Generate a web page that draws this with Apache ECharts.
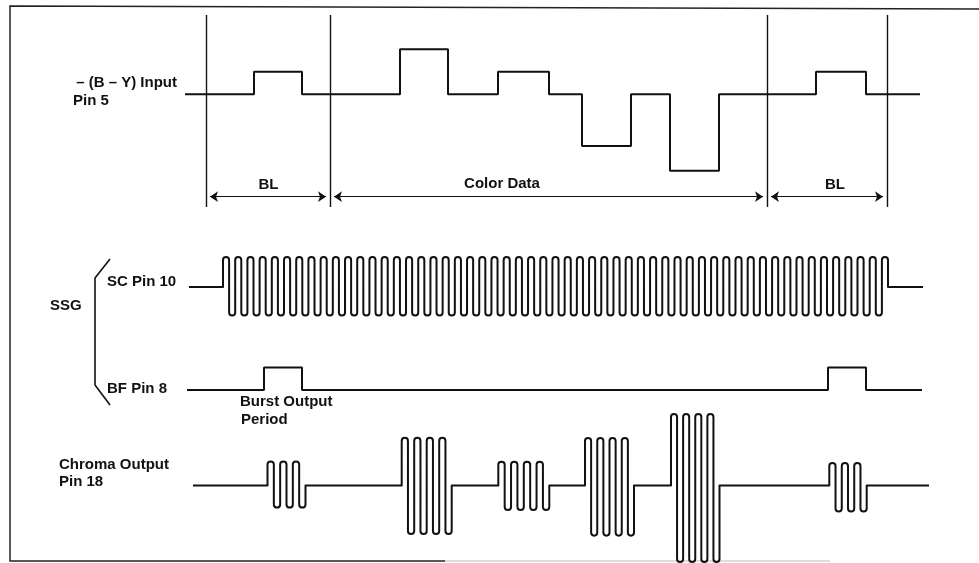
<!DOCTYPE html>
<html><head><meta charset="utf-8">
<script src="https://cdn.jsdelivr.net/npm/echarts@6/dist/echarts.min.js"></script>
<style>html,body{margin:0;padding:0;background:#fff}#chart{width:979px;height:563px}</style>
</head><body><div id="chart"></div>
<script>
// ---------------- data (time in diagram units, levels in signal units) ----------------
const periodMarks = [206, 330, 767, 887];
const periodNames = ['BL', 'Color Data', 'BL'];

const inputTimes  = [185, 254, 302, 400, 448, 498, 549, 582, 631, 670, 719, 816, 866, 920];
const inputLevels = [0,   1,   0,   2,   0,   1,   0,  -2.3, 0,  -3.4, 0,   1,   0,   0];

const scSpan   = [189, 923];
const scStart  = [223];
const scEnd    = [888];
const scLoops  = [109];
const scTop    = [1.33];
const scBottom = [1.27];

const bfTimes  = [187, 264, 302, 828, 866, 922];
const bfLevels = [0,   1,   0,   1,   0,   0];

const chromaSpan  = [193, 929];
const burstStart  = [267.5, 401.7, 498.3, 585, 671, 829.3];
const burstEnd    = [305.5, 451.7, 549.3, 634, 719.5, 866.7];
const burstLoops  = [6, 8, 8, 8, 8, 6];
const burstTop    = [1.07, 2.12, 1.06, 2.11, 3.18, 1.0];
const burstBottom = [0.98, 2.16, 1.09, 2.23, 3.4, 1.16];

const rowLabels = ['– (B – Y) Input', 'Pin 5', 'SC Pin 10', 'SSG', 'BF Pin 8', 'Burst Output', 'Period', 'Chroma Output', 'Pin 18'];

// ---------------- layout ----------------
const W = 979, U = 22.5;
const INK = '#111';
const rows = [
  {base: 94.3,  top: 15,  bottom: 207},   // input
  {base: 287,   top: 240, bottom: 340},   // SC
  {base: 390,   top: 350, bottom: 410},   // BF
  {base: 485.5, top: 400, bottom: 563}    // chroma
];
const dimPx = 196.7, arrowSize = 8;
const FONT = 'bold 15px "Liberation Sans", Arial, sans-serif';

const chart = echarts.init(document.getElementById('chart'), null, {renderer: 'canvas'});

function zip(a, b) { return a.map((v, i) => [v, b[i]]); }

function bursts(st, en, lo, tp, bt) {
  return st.map((s, i) => ({start: s, end: en[i], loops: lo[i], top: tp[i], bottom: bt[i]}));
}

function buildTrace(api, span, list) {
  const y0 = api.coord([0, 0])[1];
  let d = 'M' + api.coord([span[0], 0])[0] + ' ' + y0;
  list.forEach(b => {
    const x0 = api.coord([b.start, 0])[0], x1 = api.coord([b.end, 0])[0];
    const yT = api.coord([b.start, b.top])[1], yB = api.coord([b.start, -b.bottom])[1];
    const w = (x1 - x0) / b.loops, r = w / 2, k = 4 / 3 * r;
    d += ' L' + x0 + ' ' + y0 + ' L' + x0 + ' ' + (yT + r);
    let x = x0;
    for (let i = 0; i < b.loops; i++) {
      const isTop = i % 2 === 0;
      if (isTop) d += ' C' + x + ' ' + (yT + r - k) + ' ' + (x + w) + ' ' + (yT + r - k) + ' ' + (x + w) + ' ' + (yT + r);
      else d += ' C' + x + ' ' + (yB - r + k) + ' ' + (x + w) + ' ' + (yB - r + k) + ' ' + (x + w) + ' ' + (yB - r);
      x += w;
      const last = i === b.loops - 1;
      d += ' L' + x + ' ' + (last ? y0 : (isTop ? yB - r : yT + r));
    }
  });
  d += ' L' + api.coord([span[1], 0])[0] + ' ' + y0;
  return {type: 'path', shape: {pathData: d}, style: {stroke: INK, lineWidth: 2, fill: 'none', lineJoin: 'round'}};
}

const dimLevel = (rows[0].base - dimPx) / U;
const inset = arrowSize / 2;
const markData = periodMarks.map(t => ({xAxis: t, symbol: 'none', lineStyle: {width: 1.4}}));
for (let i = 0; i < periodMarks.length - 1; i++) {
  markData.push([
    {coord: [periodMarks[i] + inset, dimLevel], symbol: 'arrow', symbolSize: arrowSize},
    {coord: [periodMarks[i + 1] - inset, dimLevel], symbol: 'arrow', symbolSize: arrowSize}
  ]);
}

function txt(t, x, y, align) {
  return {type: 'text', x: x, y: y, silent: true,
    style: {text: t, font: FONT, fill: INK, textAlign: align || 'left', align: align || 'left',
            textVerticalAlign: 'middle', verticalAlign: 'middle'}};
}

const option = {
  animation: false,
  backgroundColor: '#fff',
  grid: rows.map(r => ({left: 0, right: 0, top: r.top, height: r.bottom - r.top, containLabel: false})),
  xAxis: rows.map((r, i) => ({type: 'value', gridIndex: i, min: 0, max: W, show: false})),
  yAxis: rows.map((r, i) => ({type: 'value', gridIndex: i, show: false,
    min: -(r.bottom - r.base) / U, max: (r.base - r.top) / U})),
  series: [
    {
      type: 'line', xAxisIndex: 0, yAxisIndex: 0, step: 'end', symbol: 'none',
      data: zip(inputTimes, inputLevels),
      lineStyle: {color: INK, width: 2},
      markLine: {
        silent: true, symbol: ['none', 'none'], animation: false,
        label: {show: false},
        lineStyle: {color: INK, width: 1.2, type: 'solid'},
        emphasis: {disabled: true},
        data: markData
      }
    },
    {
      type: 'custom', xAxisIndex: 1, yAxisIndex: 1, data: [[0, 0]], silent: true,
      renderItem: (p, api) => buildTrace(api, scSpan, bursts(scStart, scEnd, scLoops, scTop, scBottom))
    },
    {
      type: 'line', xAxisIndex: 2, yAxisIndex: 2, step: 'end', symbol: 'none',
      data: zip(bfTimes, bfLevels),
      lineStyle: {color: INK, width: 2}
    },
    {
      type: 'custom', xAxisIndex: 3, yAxisIndex: 3, data: [[0, 0]], silent: true, clip: false,
      renderItem: (p, api) => buildTrace(api, chromaSpan, bursts(burstStart, burstEnd, burstLoops, burstTop, burstBottom))
    }
  ],
  graphic: [
    {type: 'polyline', silent: true, shape: {points: [[979, 9], [10, 6], [10, 561], [445, 561]]},
     style: {stroke: '#222', fill: null, lineWidth: 1.5}},
    {type: 'polyline', silent: true, shape: {points: [[445, 561], [830, 561]]},
     style: {stroke: '#bbb', fill: null, lineWidth: 1.2}},
    {type: 'polyline', silent: true, shape: {points: [[110, 259], [95, 278], [95, 385], [110, 405]]},
     style: {stroke: INK, lineWidth: 1.6, fill: null}},
    txt(rowLabels[0], 177, 83.3, 'right'),
    txt(rowLabels[1], 73, 100.5),
    txt(periodNames[0], 268.5, 184.5, 'center'),
    txt(periodNames[1], 502, 184, 'center'),
    txt(periodNames[2], 835, 185, 'center'),
    txt(rowLabels[2], 107, 282),
    txt(rowLabels[3], 50, 306),
    txt(rowLabels[4], 107, 389),
    txt(rowLabels[5], 240, 402),
    txt(rowLabels[6], 241, 420),
    txt(rowLabels[7], 59, 465.3),
    txt(rowLabels[8], 59, 481.7)
  ]
};
chart.setOption(option);
</script></body></html>
